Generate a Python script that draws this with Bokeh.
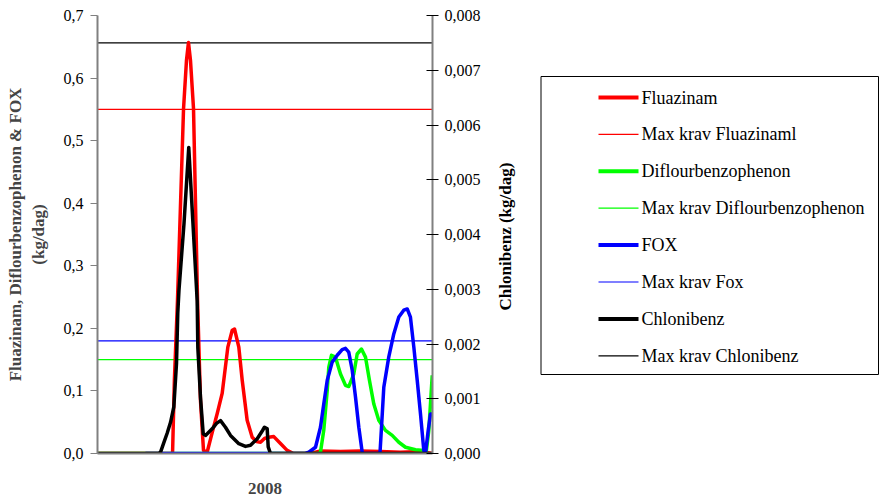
import math
from bokeh.plotting import figure
from bokeh.layouts import row
from bokeh.models import (Range1d, LinearAxis, FixedTicker, CustomJSTickFormatter)
from bokeh.core.properties import value
from bokeh.embed import file_html
from bokeh.resources import INLINE

# ---- data (x = day of year 2008) ----
FLUAZ_DAY = [0, 82, 84, 87.4, 94, 97.2, 99.4, 101.6, 104.9, 109.3, 112.5, 115.8, 119.8,
             124.5, 130.8, 136.2, 142.4, 147.2, 149.7, 154.4, 158.1, 163.5, 169, 173.7,
             178.1, 182.4, 187.1, 192.6, 199.9, 207.2, 214.1, 232.7, 243.6, 265.5, 287.3,
             309.2, 331, 352.9, 366]
FLUAZ_VAL = [0, 0, 0.117, 0.245, 0.551, 0.628, 0.657, 0.628, 0.551, 0.245, 0.085, 0.005, 0.002,
             0.029, 0.064, 0.096, 0.170, 0.197, 0.199, 0.170, 0.117, 0.053, 0.026, 0.019,
             0.018, 0.024, 0.026, 0.027, 0.016, 0.005, 0, 0, 0.004, 0.003, 0.004,
             0.003, 0.002, 0.003, 0]

DIFL_DAY = [0, 241.4, 243.6, 247.2, 251.0, 252.7, 255.6, 260.0, 265.5, 270.9, 274.5, 280.0,
            283.7, 288.4, 292.8, 297.1, 301.9, 307.3, 314.6, 322.0, 329.2, 336.5, 347.4,
            356.5, 359.1, 362.0, 365.7]
DIFL_VAL = [0, 0, 0.002, 0.037, 0.101, 0.138, 0.157, 0.154, 0.127, 0.109, 0.107, 0.127,
            0.159, 0.167, 0.154, 0.117, 0.079, 0.053, 0.037, 0.029, 0.018, 0.010, 0.006,
            0.005, 0.002, 0.037, 0.125]

FOX_DAY = [52.4, 227.2, 230.8, 238.2, 243.6, 247.2, 251.0, 256.4, 261.9, 267.3, 270.9, 274.5,
           278.3, 281.9, 285.5, 289.2, 290, 308.6, 310.3, 312.8, 318.2, 323.7, 329.2, 334.6,
           338.4, 341.9, 345.6, 349.3, 352.9, 356.5, 358.3, 361.3, 363.8, 365.7]
FOX_VAL = [0, 0, 0.002, 0.010, 0.042, 0.079, 0.117, 0.146, 0.157, 0.166, 0.168, 0.162,
           0.133, 0.090, 0.042, 0.002, 0, 0, 0.042, 0.106, 0.154, 0.191, 0.218, 0.229,
           0.231, 0.218, 0.170, 0.117, 0.063, 0.005, 0, 0.037, 0.063, 0.063]

CHLON_DAY = [0, 66.6, 68.8, 72.1, 76.1, 79.8, 83.4, 86.3, 87.7, 89.0, 94.5, 99.7, 104.3,
             108.9, 109.6, 112.5, 115.5, 118.0, 125.3, 130.0, 134.4, 139.8, 145.3, 154.4,
             161.7, 167.2, 174.5, 180.3, 182.4, 185.4, 186.5, 189.0, 366]
CHLON_VAL = [0, 0, 0.00002, 0.00018, 0.00037, 0.00057, 0.00085, 0.00164, 0.00256, 0.00298,
             0.0042, 0.00559, 0.0042, 0.00279, 0.00194, 0.00103, 0.00036, 0.00033, 0.00045,
             0.00055, 0.0006, 0.00048, 0.00033, 0.00018, 0.00013, 0.00015, 0.00027, 0.00042,
             0.00048, 0.00045, 0.00012, 0, 0]

MAX_FLUAZ = 0.55
MAX_DIFL = 0.15
MAX_FOX = 0.18
MAX_CHLON = 0.0075

X_START, X_END = 0, 366
LEFT_TICKS = [0.0, 0.1, 0.2, 0.3, 0.4, 0.5, 0.6, 0.7]
RIGHT_TICKS = [0.0, 0.001, 0.002, 0.003, 0.004, 0.005, 0.006, 0.007, 0.008]
X_LABEL = "2008"
LEFT_TITLE = "Fluazinam, Diflourbenzophenon & FOX\n(kg/dag)"
RIGHT_TITLE = "Chlonibenz (kg/dag)"

LEGEND_LABELS = ["Fluazinam", "Max krav Fluazinaml", "Diflourbenzophenon",
                 "Max krav Diflourbenzophenon", "FOX", "Max krav Fox", "Chlonibenz",
                 "Max krav Chlonibenz"]
COLORS = ["#FF0000", "#FF0000", "#00FF00", "#00FF00", "#0000FF", "#0000FF", "black", "black"]
WIDTHS = [4, 1.2, 4, 1.2, 4, 1.2, 4, 1.2]

FONT = "Liberation Serif"

p = figure(width=490, height=499, output_backend="svg", toolbar_location=None,
           x_range=Range1d(X_START, X_END), y_range=Range1d(0, 0.7),
           min_border_left=97, min_border_right=58, min_border_top=15, min_border_bottom=46)
p.extra_y_ranges = {"right": Range1d(0, 0.008)}
p.grid.visible = False
p.outline_line_color = None

# left axis
ya = p.yaxis[0]
ya.ticker = FixedTicker(ticks=LEFT_TICKS, minor_ticks=[])
ya.formatter = CustomJSTickFormatter(code="return tick.toFixed(1).replace('.', ',');")
ya.axis_label = LEFT_TITLE
ya.axis_label_text_font = FONT
ya.axis_label_text_font_style = "bold"
ya.axis_label_text_font_size = "17px"
ya.axis_label_standoff = 13
ya.major_label_text_font = FONT
ya.major_label_text_font_size = "16px"
ya.major_label_text_color = "black"
ya.major_label_standoff = 7
ya.major_tick_in = 0
ya.major_tick_out = 7
ya.axis_line_color = "#808080"
ya.axis_line_width = 2
ya.major_tick_line_color = "#808080"

# right axis (its title is drawn in the neighbouring panel)
ra = LinearAxis(y_range_name="right", ticker=FixedTicker(ticks=RIGHT_TICKS, minor_ticks=[]))
ra.formatter = CustomJSTickFormatter(code="return tick.toFixed(3).replace('.', ',');")
ra.major_label_text_font = FONT
ra.major_label_text_font_size = "16px"
ra.major_label_text_color = "black"
ra.major_label_standoff = 6
ra.major_tick_in = 6
ra.major_tick_out = 6
ra.axis_line_color = "#808080"
ra.axis_line_width = 2
ra.major_tick_line_color = "black"
p.add_layout(ra, "right")

# x axis
xa = p.xaxis[0]
xa.ticker = FixedTicker(ticks=[], minor_ticks=[])
xa.axis_label = X_LABEL
xa.axis_label_text_font = FONT
xa.axis_label_text_font_style = "bold"
xa.axis_label_text_font_size = "17px"
xa.axis_label_standoff = 29
xa.axis_line_color = "#808080"
xa.axis_line_width = 2
xa.major_tick_line_color = None

# max lines
xs = [X_START, X_END]
p.line(xs, [MAX_FLUAZ] * 2, line_color="#FF0000", line_width=1.2)
p.line(xs, [MAX_DIFL] * 2, line_color="#00FF00", line_width=1.2)
p.line(xs, [MAX_FOX] * 2, line_color="#0000FF", line_width=1.2)
p.line(xs, [MAX_CHLON] * 2, line_color="black", line_width=1.2, y_range_name="right")

# series
p.line(FLUAZ_DAY, FLUAZ_VAL, line_color="#FF0000", line_width=3.5, line_join="round")
p.line(DIFL_DAY, DIFL_VAL, line_color="#00FF00", line_width=3.5, line_join="round")
p.line(FOX_DAY, FOX_VAL, line_color="#0000FF", line_width=3.5, line_join="round")
p.line(CHLON_DAY, CHLON_VAL, line_color="black", line_width=3.5, line_join="round",
       y_range_name="right")

# side panel: right-axis title and legend box; ranges are in page pixels
lg = figure(width=391, height=499, output_backend="svg", toolbar_location=None,
            x_range=Range1d(490, 881), y_range=Range1d(453, 15),
            x_axis_type=None, y_axis_type=None,
            min_border_left=0, min_border_right=0, min_border_top=15, min_border_bottom=46)
lg.grid.visible = False
lg.outline_line_color = None

lg.text(x=[505], y=[236], text=[RIGHT_TITLE], angle=math.pi / 2,
        text_font=value(FONT), text_font_style="bold", text_font_size="17px",
        text_align="center", text_baseline="middle", text_color="black")

lg.quad(left=[540.5], right=[878], top=[76], bottom=[374],
        fill_alpha=0, line_color="black", line_width=1)

ROW0, ROW_STEP = 97, 36.9
ys = [ROW0 + i * ROW_STEP for i in range(len(LEGEND_LABELS))]
for yy, col, w in zip(ys, COLORS, WIDTHS):
    lg.segment(x0=[598], x1=[638], y0=[yy], y1=[yy], line_color=col, line_width=w)
lg.text(x=[641] * len(ys), y=ys, text=LEGEND_LABELS,
        text_font=value(FONT), text_font_size="18px",
        text_align="left", text_baseline="middle", text_color="black")

layout = row(p, lg, spacing=0)
open("out.html", "w").write(file_html(layout, INLINE))
